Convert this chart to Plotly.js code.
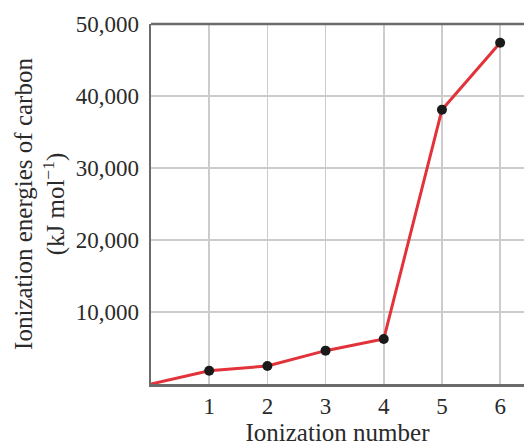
<!DOCTYPE html>
<html><head><meta charset="utf-8">
<script src="https://cdn.plot.ly/plotly-3.0.1.min.js"></script>
<style>html,body{margin:0;padding:0;background:#fff}#c{width:524px;height:446px}</style>
</head><body><div id="c"></div>
<script>
const ionizationNumber = [1, 2, 3, 4, 5, 6];
const ionizationEnergy = [1850, 2500, 4630, 6250, 38100, 47400];
const lineX = [0].concat(ionizationNumber);
const lineY = [0].concat(ionizationEnergy);
const xTickVals = [1, 2, 3, 4, 5, 6];
const xTickText = ['1', '2', '3', '4', '5', '6'];
const yTickVals = [10000, 20000, 30000, 40000, 50000];
const yTickText = ['10,000', '20,000', '30,000', '40,000', '50,000'];

const font = 'Liberation Serif, DejaVu Serif, serif';
const txt = '#2a2a2a';
const traces = [
  {x: lineX, y: lineY, mode: 'lines', line: {color: '#e2323a', width: 3}, hoverinfo: 'skip', cliponaxis: false},
  {x: ionizationNumber, y: ionizationEnergy, mode: 'markers', marker: {color: '#1a1a1a', size: 10}, cliponaxis: false}
];
const layout = {
  width: 524, height: 446,
  margin: {l: 151, r: 0, t: 24, b: 62},
  showlegend: false,
  paper_bgcolor: '#fff', plot_bgcolor: '#fff',
  font: {family: font, color: txt, size: 23},
  xaxis: {
    range: [0, 6.41], tickvals: xTickVals, ticktext: xTickText,
    showgrid: true, gridcolor: '#cccccc', gridwidth: 1.5,
    showline: true, linecolor: '#6b6b6b', linewidth: 2.5,
    ticks: '', zeroline: false,
    tickfont: {family: font, size: 23, color: txt},
    title: {text: 'Ionization number', font: {family: font, size: 25, color: txt}, standoff: 4}
  },
  yaxis: {
    range: [0, 50000], tickvals: yTickVals, ticktext: yTickText,
    showgrid: true, gridcolor: '#cccccc', gridwidth: 1.5,
    showline: true, linecolor: '#6b6b6b', linewidth: 2.5,
    ticks: '', zeroline: false, ticklabelstandoff: 5,
    tickfont: {family: font, size: 23, color: txt},
    title: {text: 'Ionization energies of carbon<br>(kJ mol<sup>−1</sup>)', font: {family: font, size: 25, color: txt}, standoff: 4}
  },
  shapes: [
    {type: 'line', xref: 'paper', yref: 'paper', x0: 0, x1: 1, y0: 1, y1: 1, line: {color: '#6b6b6b', width: 2.5}}
  ]
};
Plotly.newPlot('c', traces, layout, {displayModeBar: false, staticPlot: true});
</script></body></html>
